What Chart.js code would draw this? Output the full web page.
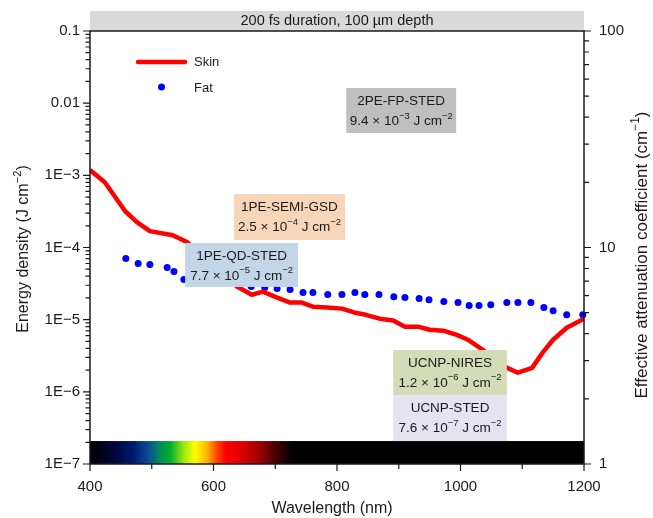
<!DOCTYPE html>
<html>
<head>
<meta charset="utf-8">
<script src="https://cdn.jsdelivr.net/npm/chart.js@4.4.1/dist/chart.umd.min.js"></script>
<style>
  html, body { margin: 0; padding: 0; background: #fff; }
</style>
</head>
<body>
<canvas id="chart" width="653" height="518"></canvas>
<script>
// skin attenuation coefficient (cm^-1), red line
const skinWavelength = [400, 424, 457, 476, 497, 534, 557, 600, 638, 662, 680, 703, 724, 743, 761, 784,
    808, 829, 845, 869, 891, 910, 931, 950, 972, 994, 1012, 1036, 1052, 1072, 1093, 1116, 1133, 1150, 1172, 1200];
const skinValues = [22.8, 20.0, 14.7, 13.1, 11.9, 11.4, 10.6, 8.3, 6.6, 6.05, 6.25, 5.87, 5.57, 5.57, 5.33, 5.28,
    5.22, 5.0, 4.9, 4.69, 4.6, 4.31, 4.31, 4.17, 4.13, 3.95, 3.75, 3.37, 3.1, 2.81, 2.64, 2.78, 3.27, 3.75, 4.26, 4.69];

// fat attenuation coefficient (cm^-1), blue dots
const fatWavelength = [458, 478, 497, 525, 536, 552, 575, 595, 615, 640, 661, 683, 703, 724, 745, 761, 785,
    808, 829, 845, 868, 892, 910, 933, 949, 973, 996, 1014, 1030, 1049, 1075, 1093, 1114, 1135, 1150, 1172, 1198];
const fatValues = [8.9, 8.44, 8.35, 8.08, 7.74, 7.11, 6.95, 6.9, 6.85, 6.8, 6.6, 6.53, 6.46, 6.39, 6.19, 6.19, 6.06,
    6.06, 6.19, 6.06, 6.06, 5.93, 5.87, 5.81, 5.74, 5.63, 5.57, 5.39, 5.39, 5.44, 5.57, 5.57, 5.57, 5.28, 5.11, 4.89, 4.89];

// axis ticks
const wavelengthTicks = [400, 600, 800, 1000, 1200];
const energyTicks = [1e-7, 1e-6, 1e-5, 1e-4, 1e-3, 0.01, 0.1];
const energyTickLabels = ['1E\u22127', '1E\u22126', '1E\u22125', '1E\u22124', '1E\u22123', '0.01', '0.1'];
const attenTicks = [1, 10, 100];
const attenTickLabels = ['1', '10', '100'];

// threshold energies of the imaging methods (left axis)
const methodNames = ['2PE-FP-STED', '1PE-SEMI-GSD', '1PE-QD-STED', 'UCNP-NIRES', 'UCNP-STED'];
const methodEnergies = ['9.4 \u00d7 10^{\u22123} J cm^{\u22122}', '2.5 \u00d7 10^{\u22124} J cm^{\u22122}',
    '7.7 \u00d7 10^{\u22125} J cm^{\u22122}', '1.2 \u00d7 10^{\u22126} J cm^{\u22122}', '7.6 \u00d7 10^{\u22127} J cm^{\u22122}'];

// box placement in axis units: [nm left, nm right, energy top, energy bottom], fill colour
const boxPlacement = [
    [815, 993, 1.62e-2, 3.86e-3, '#bfbfbf'],
    [633, 813, 5.5e-4, 1.27e-4, '#f7d5b8'],
    [554, 737, 1.156e-4, 2.84e-5, '#c3d6e8'],
    [891, 1075, 3.8e-6, 9.0e-7, '#d3dbb7'],
    [891, 1075, 9.0e-7, 2.08e-7, '#e5e3ef']
];

// visible spectrum strip colours (nm, colour)
const spectrumStops = [
    [400, '#000000'], [440, '#00063a'], [470, '#001a6e'], [495, '#0c4c98'], [512, '#008a5a'],
    [530, '#00b030'], [550, '#90e410'], [570, '#ffff00'], [590, '#ffb000'], [606, '#ff4000'],
    [620, '#ff0000'], [645, '#e00000'], [675, '#9a0000'], [705, '#3a0000'], [725, '#060000'], [740, '#000000']
];

const FONT = '"Liberation Sans", Arial, Helvetica, sans-serif';
const INK = '#1a1a1a';

const skinData = skinWavelength.map((w, i) => ({x: w, y: skinValues[i]}));
const fatData = fatWavelength.map((w, i) => ({x: w, y: fatValues[i]}));

function logMinor(lo, hi) {
    let out = [];
    for (let d = lo; d < hi; d *= 10) {
        for (let k = 1; k < 10; k++) out.push(d * k);
    }
    out.push(hi);
    return out;
}

function sameValue(a, b) {
    return Math.abs(Math.log10(a) - Math.log10(b)) < 1e-6;
}

// draw text with ^{...} superscripts
function drawRich(ctx, str, x, y, size, align) {
    let parts = [];
    let re = /\^\{([^}]*)\}/g, last = 0, m;
    while ((m = re.exec(str)) !== null) {
        if (m.index > last) parts.push([str.slice(last, m.index), false]);
        parts.push([m[1], true]);
        last = re.lastIndex;
    }
    if (last < str.length) parts.push([str.slice(last), false]);
    let widths = parts.map(p => {
        ctx.font = (p[1] ? size * 0.7 : size) + 'px ' + FONT;
        return ctx.measureText(p[0]).width;
    });
    let total = widths.reduce((a, b) => a + b, 0);
    let cx = align === 'center' ? x - total / 2 : x;
    ctx.textAlign = 'left';
    ctx.textBaseline = 'middle';
    parts.forEach((p, i) => {
        ctx.font = (p[1] ? size * 0.7 : size) + 'px ' + FONT;
        ctx.fillText(p[0], cx, p[1] ? y - size * 0.38 : y);
        cx += widths[i];
    });
}

const decorPlugin = {
    id: 'decor',
    beforeDatasetsDraw(chart) {
        const {ctx, chartArea: a, scales} = chart;
        // spectrum strip at the bottom
        let x0 = scales.x.getPixelForValue(400), x1 = scales.x.getPixelForValue(1200);
        let g = ctx.createLinearGradient(x0, 0, x1, 0);
        spectrumStops.forEach(s => g.addColorStop((s[0] - 400) / 800, s[1]));
        let top = scales.y.getPixelForValue(2.08e-7);
        ctx.save();
        ctx.fillStyle = g;
        ctx.fillRect(x0, top, x1 - x0, a.bottom - top);
        ctx.restore();
    },
    afterDatasetsDraw(chart) {
        const {ctx, chartArea: a, scales} = chart;
        ctx.save();
        boxPlacement.forEach((b, i) => {
            let l = scales.x.getPixelForValue(b[0]), r = scales.x.getPixelForValue(b[1]);
            let t = scales.y.getPixelForValue(b[2]), btm = scales.y.getPixelForValue(b[3]);
            ctx.fillStyle = b[4];
            ctx.fillRect(l, t, r - l, btm - t);
            ctx.fillStyle = INK;
            drawRich(ctx, methodNames[i], (l + r) / 2, t + 13, 13.5, 'center');
            drawRich(ctx, methodEnergies[i], (l + r) / 2, t + 33, 13.5, 'center');
        });

        // legend
        ctx.strokeStyle = '#ff0000';
        ctx.lineWidth = 4.5;
        ctx.lineCap = 'round';
        ctx.beginPath();
        ctx.moveTo(a.left + 48, a.top + 31);
        ctx.lineTo(a.left + 95, a.top + 31);
        ctx.stroke();
        ctx.fillStyle = '#0000ff';
        ctx.beginPath();
        ctx.arc(a.left + 71.5, a.top + 56, 3.5, 0, Math.PI * 2);
        ctx.fill();
        ctx.fillStyle = INK;
        drawRich(ctx, 'Skin', a.left + 104, a.top + 31, 13, 'left');
        drawRich(ctx, 'Fat', a.left + 104, a.top + 57, 13, 'left');
        ctx.restore();
    },
    afterDraw(chart) {
        const {ctx, chartArea: a, scales} = chart;
        ctx.save();
        // header bar
        ctx.fillStyle = '#d9d9d9';
        ctx.fillRect(a.left, 11, a.right - a.left, a.top - 11);
        ctx.fillStyle = INK;
        drawRich(ctx, '200 fs duration, 100 \u00b5m depth', (a.left + a.right) / 2, 21, 14.5, 'center');

        // frame
        ctx.strokeStyle = INK;
        ctx.lineWidth = 1.5;
        ctx.strokeRect(a.left, a.top, a.right - a.left, a.bottom - a.top);

        // tick marks
        ctx.lineWidth = 1.2;
        ctx.beginPath();
        scales.x.ticks.forEach(t => {
            let px = scales.x.getPixelForValue(t.value);
            let len = t.label !== '' ? 7 : 5;
            ctx.moveTo(px, a.bottom);
            ctx.lineTo(px, a.bottom + len);
        });
        scales.y.ticks.forEach(t => {
            let py = scales.y.getPixelForValue(t.value);
            let len = t.label !== '' ? 7 : 4.5;
            ctx.moveTo(a.left, py);
            ctx.lineTo(a.left - len, py);
        });
        scales.y2.ticks.forEach(t => {
            let py = scales.y2.getPixelForValue(t.value);
            let len = t.label !== '' ? 7 : 5;
            ctx.moveTo(a.right, py);
            ctx.lineTo(a.right + len, py);
        });
        ctx.stroke();

        // axis titles
        ctx.fillStyle = INK;
        drawRich(ctx, 'Wavelength (nm)', (a.left + a.right) / 2 - 5, 509, 16, 'center');
        ctx.translate(24, 249);
        ctx.rotate(-Math.PI / 2);
        drawRich(ctx, 'Energy density (J cm^{\u22122})', 0, 0, 16, 'center');
        ctx.restore();
        ctx.save();
        ctx.translate(642, 255);
        ctx.rotate(-Math.PI / 2);
        ctx.fillStyle = INK;
        drawRich(ctx, 'Effective attenuation coefficient (cm^{\u22121})', 0, 0, 17, 'center');
        ctx.restore();
    }
};

let ctx = document.getElementById('chart').getContext('2d');

let attenChart = new Chart(ctx, {
    type: 'line',
    data: {
        datasets: [{
            label: 'Skin',
            data: skinData,
            yAxisID: 'y2',
            borderColor: '#ff0000',
            borderWidth: 4.5,
            borderJoinStyle: 'round',
            pointRadius: 0,
            tension: 0
        }, {
            label: 'Fat',
            data: fatData,
            yAxisID: 'y2',
            showLine: false,
            pointRadius: 3.5,
            pointBorderWidth: 0,
            pointBackgroundColor: '#0000ff',
            clip: false
        }]
    },
    options: {
        responsive: false,
        animation: false,
        devicePixelRatio: 1,
        layout: {padding: {top: 31, left: 0, right: 0, bottom: 0}},
        plugins: {
            legend: {display: false},
            tooltip: {enabled: false}
        },
        scales: {
            x: {
                type: 'linear',
                min: 400,
                max: 1200,
                afterBuildTicks: s => {
                    let t = [];
                    for (let v = 400; v <= 1200; v += 100) t.push({value: v});
                    s.ticks = t;
                },
                afterFit: s => { s.height = 54; },
                grid: {display: false, drawTicks: false},
                border: {display: false},
                ticks: {
                    autoSkip: false,
                    maxRotation: 0,
                    padding: 14,
                    color: INK,
                    font: {family: FONT, size: 15},
                    callback: v => wavelengthTicks.includes(v) ? String(v) : ''
                }
            },
            y: {
                type: 'logarithmic',
                position: 'left',
                min: 1e-7,
                max: 0.1,
                afterBuildTicks: s => { s.ticks = logMinor(1e-7, 0.1).map(v => ({value: v})); },
                afterFit: s => { s.width = 90; },
                grid: {display: false, drawTicks: false},
                border: {display: false},
                ticks: {
                    autoSkip: false,
                    padding: 10,
                    color: INK,
                    font: {family: FONT, size: 15},
                    callback: v => {
                        let i = energyTicks.findIndex(t => sameValue(t, v));
                        return i >= 0 ? energyTickLabels[i] : '';
                    }
                }
            },
            y2: {
                type: 'logarithmic',
                position: 'right',
                min: 1,
                max: 100,
                afterBuildTicks: s => { s.ticks = logMinor(1, 100).map(v => ({value: v})); },
                afterFit: s => { s.width = 69; },
                grid: {display: false, drawTicks: false},
                border: {display: false},
                ticks: {
                    autoSkip: false,
                    padding: 15,
                    color: INK,
                    font: {family: FONT, size: 15},
                    callback: v => {
                        let i = attenTicks.findIndex(t => sameValue(t, v));
                        return i >= 0 ? attenTickLabels[i] : '';
                    }
                }
            }
        }
    },
    plugins: [decorPlugin]
});
</script>
</body>
</html>
